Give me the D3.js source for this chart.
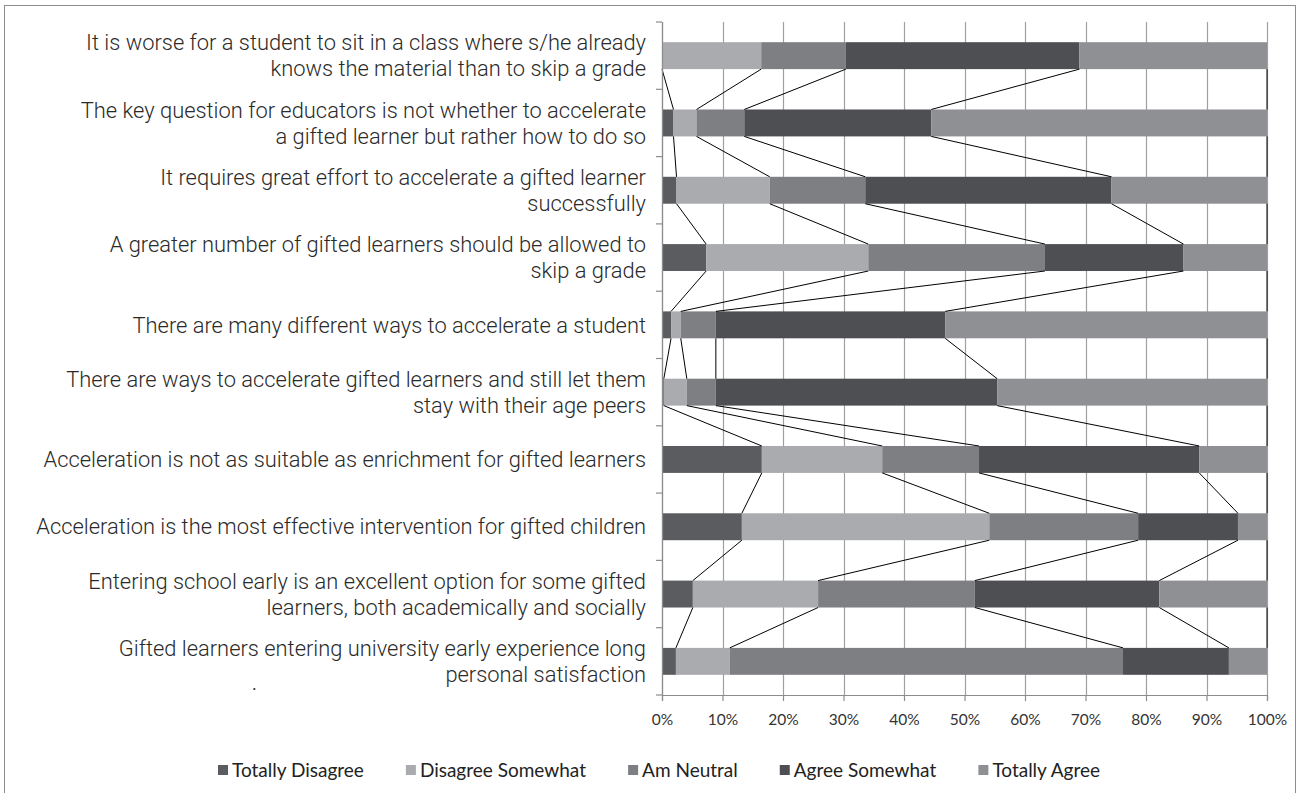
<!DOCTYPE html>
<html><head><meta charset="utf-8">
<script src="https://cdn.jsdelivr.net/npm/d3@7"></script>
<style>body{margin:0;background:#fff}svg{display:block}</style>
</head><body>
<svg id="chart" width="1303" height="793"></svg>
<script>
// ---- data ----
const categories = [
  "It is worse for a student to sit in a class where s/he already|knows the material than to skip a grade",
  "The key question for educators is not whether to accelerate|a gifted learner but rather how to do so",
  "It requires great effort to accelerate a gifted learner|successfully",
  "A greater number of gifted learners should be allowed to|skip a grade",
  "There are many different ways to accelerate a student",
  "There are ways to accelerate gifted learners and still let them|stay with their age peers",
  "Acceleration is not as suitable as enrichment for gifted learners",
  "Acceleration is the most effective intervention for gifted children",
  "Entering school early is an excellent option for some gifted|learners, both academically and socially",
  "Gifted learners entering university early experience long|personal satisfaction"
];
const seriesNames = ["Totally Disagree","Disagree Somewhat","Am Neutral","Agree Somewhat","Totally Agree"];
const totallyDisagree  = [0.0, 1.9, 2.4, 7.3, 1.5, 0.3, 16.5, 13.2, 5.1, 2.3];
const disagreeSomewhat = [16.4, 3.8, 15.4, 26.8, 1.6, 3.8, 19.9, 40.9, 20.7, 8.9];
const amNeutral        = [14.0, 7.9, 15.8, 29.2, 5.8, 4.8, 16.0, 24.6, 25.9, 65.0];
const agreeSomewhat    = [38.6, 30.9, 40.7, 22.9, 37.9, 46.5, 36.4, 16.5, 30.5, 17.5];
const totallyAgree     = [31.0, 55.5, 25.7, 13.8, 53.2, 44.6, 11.2, 4.8, 17.8, 6.3];
const xTicks = [0,10,20,30,40,50,60,70,80,90,100];
const seriesColors = ["#5b5c5f","#a9abae","#7e7f83","#4e4f53","#8f9094"];

// ---- build ----
const seriesValues = [totallyDisagree, disagreeSomewhat, amNeutral, agreeSomewhat, totallyAgree];
const rows = categories.map((c, i) => {
  const r = {cat: c};
  seriesNames.forEach((s, k) => r[s] = seriesValues[k][i]);
  return r;
});
const stacked = d3.stack().keys(seriesNames)(rows);

const svg = d3.select("#chart");
const plot = {left: 662, right: 1267, top: 22, bottom: 695};

const x = d3.scaleLinear().domain([0,100]).range([plot.left, plot.right]);
const y = d3.scaleBand().domain(categories).range([plot.top, plot.bottom])
  .paddingInner(0.6).paddingOuter(0.3);

// outer border
svg.append("rect").attr("x",4.5).attr("y",5.5).attr("width",1291).attr("height",820)
  .attr("fill","none").attr("stroke","#8c8c8c").attr("stroke-width",1);

// gridlines
svg.append("g").selectAll("line").data(xTicks).join("line")
  .attr("x1", d => Math.round(x(d))+0.5).attr("x2", d => Math.round(x(d))+0.5)
  .attr("y1", plot.top).attr("y2", plot.bottom)
  .attr("stroke", "#a0a0a0").attr("stroke-width", 1.2);

// bars
svg.append("g").selectAll("g").data(stacked).join("g")
  .attr("fill", (d, k) => seriesColors[k])
  .selectAll("rect").data(d => d).join("rect")
  .attr("x", d => x(d[0])).attr("width", d => x(d[1]) - x(d[0]))
  .attr("y", d => y(d.data.cat)).attr("height", y.bandwidth());

// series lines
const sl = svg.append("g").attr("stroke","#000").attr("stroke-width",1).attr("fill","none");
stacked.forEach(layer => {
  for (let i = 0; i < categories.length - 1; i++) {
    const a = layer[i], b = layer[i+1];
    sl.append("line")
      .attr("x1", x(a[1])).attr("y1", y(categories[i]) + y.bandwidth())
      .attr("x2", x(b[1])).attr("y2", y(categories[i+1]));
  }
});

// left axis (category) line and ticks at band boundaries
const leftAxis = svg.append("g").attr("stroke","#8c8c8c").attr("stroke-width",1.2);
leftAxis.append("line").attr("x1",plot.left+0.5).attr("x2",plot.left+0.5)
  .attr("y1",plot.top).attr("y2",plot.bottom);
const boundaries = d3.range(categories.length + 1).map(i => plot.top + i * y.step());
leftAxis.selectAll("line.t").data(boundaries).join("line").attr("class","t")
  .attr("x1", plot.left - 6).attr("x2", plot.left)
  .attr("y1", d => d).attr("y2", d => d);

// bottom axis
const xAxis = d3.axisBottom(x).tickValues(xTicks).tickFormat(d => d + "%").tickSize(6).tickPadding(13);
const gx = svg.append("g").attr("transform", `translate(0,${plot.bottom})`).call(xAxis);
gx.select(".domain").attr("stroke","#8c8c8c").attr("stroke-width",1.2);
gx.selectAll(".tick line").attr("stroke","#8c8c8c").attr("stroke-width",1.2);
gx.selectAll(".tick text").attr("fill","#333").style("font-family","Lato, 'Open Sans', sans-serif").style("font-size","15.5px");

// category labels (light, condensed look)
const labG = svg.append("g").style("font-family","Roboto, 'Liberation Sans', sans-serif")
  .style("font-size","22px").style("font-weight","300").attr("fill","#2a2a2a").attr("text-anchor","end");
const labelTexts = [];
categories.forEach(c => {
  const lines = c.split("|");
  const cy = y(c) + y.bandwidth()/2;
  const lh = 26;
  lines.forEach((ln, j) => {
    const t = labG.append("text").attr("x", 0)
      .attr("dy","0.35em").text(ln);
    labelTexts.push({t, yy: cy + (j - (lines.length-1)/2) * lh, ln});
  });
});
// horizontal condensation so the longest line spans the reference width
const refLine = labelTexts.find(o => o.ln.startsWith("There are ways"));
const kx = 580 / refLine.t.node().getComputedTextLength();
labelTexts.forEach(o => o.t.attr("transform", `translate(646,${o.yy}) scale(${kx},1)`));

// stray dot
svg.append("text").attr("x",252).attr("y",690).attr("fill","#333")
  .style("font-family","Roboto, sans-serif").style("font-size","18px").text(".");

// legend
const leg = svg.append("g").style("font-family","Lato, 'Open Sans', sans-serif").style("font-size","19px");
const items = leg.selectAll("g").data(seriesNames).join("g");
items.append("rect").attr("width",10).attr("height",10).attr("y",-5).attr("fill",(d,k)=>seriesColors[k]);
items.append("text").attr("x",14).attr("dy","0.35em").attr("fill","#222").text(d=>d);
const widths = [];
items.each(function(){ widths.push(this.getBBox().width); });
const legStart = 218, legEnd = 1100;
const gap = (legEnd - legStart - d3.sum(widths)) / (widths.length - 1);
let cx = legStart;
const pos = widths.map(w => { const p = cx; cx += w + gap; return p; });
items.attr("transform",(d,k)=>`translate(${pos[k]},770)`);
</script>
</body></html>
